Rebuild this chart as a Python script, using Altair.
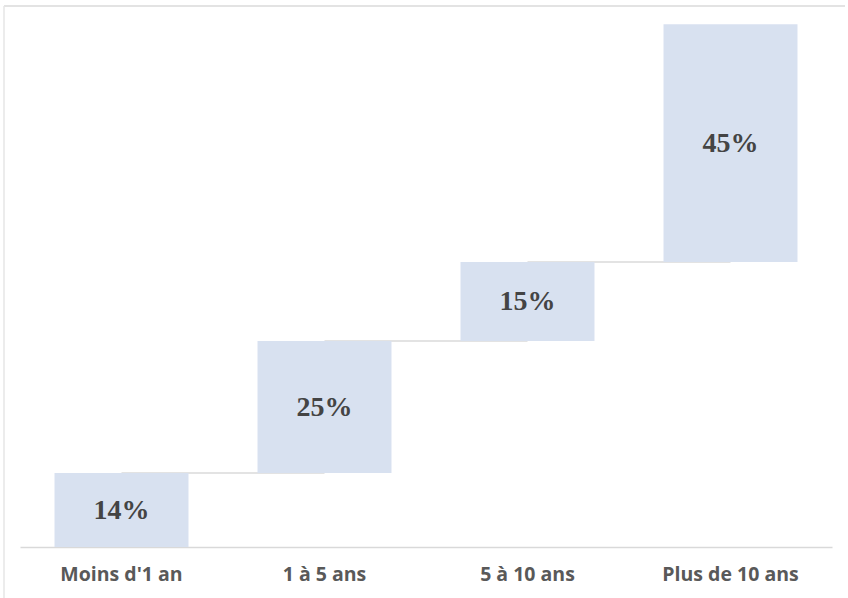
import altair as alt
import pandas as pd

categories = ["Moins d'1 an", "1 à 5 ans", "5 à 10 ans", "Plus de 10 ans"]
values = [14, 25, 15, 45]
labels = ["14%", "25%", "15%", "45%"]

starts, ends = [], []
acc = 0
for v in values:
    starts.append(acc)
    acc += v
    ends.append(acc)

df = pd.DataFrame({"cat": categories, "start": starts, "end": ends, "label": labels,
                   "mid": [(s + e) / 2 for s, e in zip(starts, ends)]})
conn = pd.DataFrame({"cat": categories[:-1], "next": categories[1:], "level": ends[:-1]})

xscale = alt.Scale(domain=categories, paddingInner=0.34, paddingOuter=0.17)
yscale = alt.Scale(domain=[0, 100], nice=False)

xaxis = alt.Axis(title=None, ticks=False, domainColor="#D9D9D9", domainWidth=1.5,
                 labelFont="Open Sans", labelFontWeight="bold", labelFontSize=19.5,
                 labelColor="#595959", labelPadding=18, labelAngle=0, grid=False)

connectors = alt.Chart(conn).mark_rule(color="#E3E3E3", strokeWidth=2).encode(
    x=alt.X("cat:N", scale=xscale, axis=xaxis, sort=categories),
    x2="next:N",
    y=alt.Y("level:Q", scale=yscale, axis=None),
)

bars = alt.Chart(df).mark_bar(color="#D8E1F0").encode(
    x=alt.X("cat:N", scale=xscale, axis=xaxis, sort=categories),
    y=alt.Y("start:Q", scale=yscale, axis=None),
    y2="end:Q",
)

text = alt.Chart(df).mark_text(font="Liberation Serif", fontWeight="bold", fontSize=28,
                               color="#444444", baseline="middle", dy=1).encode(
    x=alt.X("cat:N", scale=xscale, axis=xaxis, sort=categories),
    y=alt.Y("mid:Q", scale=yscale, axis=None),
    text="label:N",
)

frame_top = alt.Chart(df.head(1)).mark_rule(color="#DADADA", strokeWidth=1.5, clip=False).encode(
    x=alt.value(-16), x2=alt.value(825), y=alt.value(-13)
)
frame_left = alt.Chart(df.head(1)).mark_rule(color="#E6E6E6", strokeWidth=1.5, clip=False).encode(
    x=alt.value(-16), y=alt.value(-13), y2=alt.value(579)
)

chart = alt.layer(frame_top, frame_left, connectors, bars, text).properties(
    width=812, height=528,
    autosize=alt.AutoSizeParams(type="none"),
    padding={"left": 20, "top": 19, "right": 16, "bottom": 51},
    background="white",
).configure_view(stroke=None)

chart.save("out.html", embed_options={"renderer": "svg", "actions": False})
